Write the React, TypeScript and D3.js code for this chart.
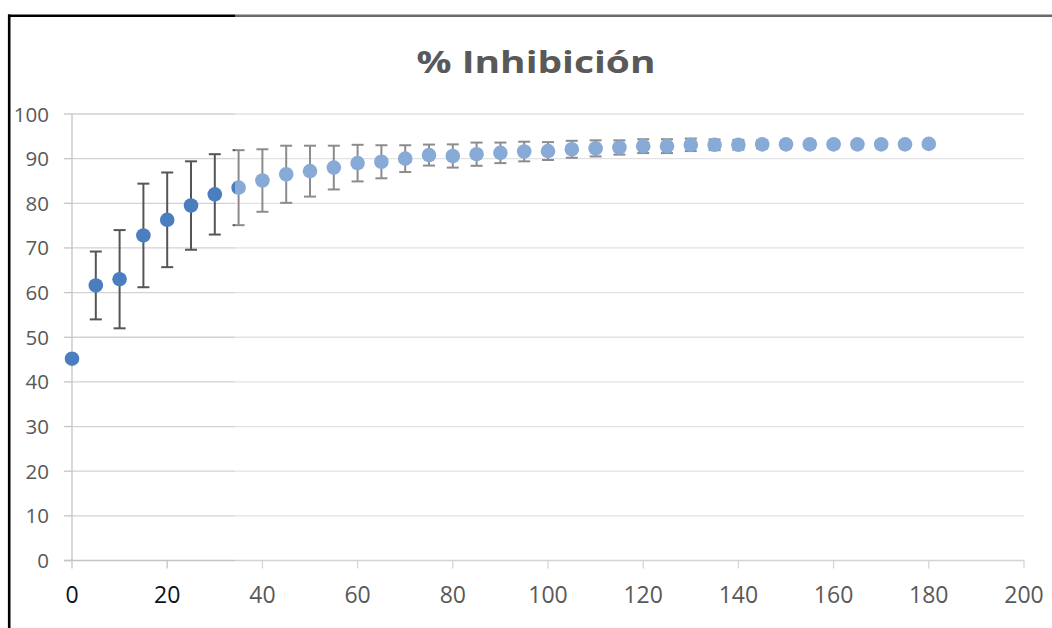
import React, { useRef, useLayoutEffect, useState } from "react";
import * as d3 from "d3";

// minutes
const times = [0, 5, 10, 15, 20, 25, 30, 35, 40, 45, 50, 55, 60, 65, 70, 75, 80, 85, 90, 95, 100, 105, 110, 115, 120, 125, 130, 135, 140, 145, 150, 155, 160, 165, 170, 175, 180];
// % inhibition (mean)
const inhibition = [45.2, 61.6, 63.0, 72.8, 76.3, 79.5, 82.0, 83.5, 85.1, 86.5, 87.2, 88.0, 89.0, 89.3, 90.0, 90.8, 90.6, 91.0, 91.3, 91.6, 91.7, 92.1, 92.3, 92.5, 92.8, 92.8, 93.1, 93.1, 93.1, 93.2, 93.2, 93.2, 93.2, 93.2, 93.2, 93.2, 93.3];
// standard deviation (error bars)
const sd = [0, 7.6, 11.0, 11.6, 10.6, 9.9, 9.0, 8.4, 7.0, 6.4, 5.7, 4.9, 4.1, 3.7, 3.0, 2.35, 2.6, 2.6, 2.3, 2.2, 2.0, 1.9, 1.8, 1.6, 1.55, 1.55, 1.4, 1.2, 1.1, 0.9, 0.8, 0.8, 0.7, 0.7, 0.7, 0.7, 0.6];

const yTicks = [0, 10, 20, 30, 40, 50, 60, 70, 80, 90, 100];
const xTicks = [0, 20, 40, 60, 80, 100, 120, 140, 160, 180, 200];
const title = "% Inhibición";

const W = 1052;
const H = 628;
const SPLIT = 235; // left strip of the picture is rendered darker
const TITLE_W = 239;

const x = d3.scaleLinear().domain([0, 200]).range([72, 1024]);
const y = d3.scaleLinear().domain([0, 100]).range([560.5, 114]);

const FONT = "'Open Sans', 'Liberation Sans', sans-serif";

interface Theme {
    dot: string;
    err: string;
    grid: string;
    axis: string;
    yLabel: string;
    xLabel: string;
}

const light: Theme = {
    dot: "#88aad6",
    err: "#8c8c8c",
    grid: "#e2e2e2",
    axis: "#d4d4d4",
    yLabel: "#595959",
    xLabel: "#595959",
};

const dark: Theme = {
    dot: "#4a7ebf",
    err: "#555555",
    grid: "#d2d2d2",
    axis: "#c4c4c4",
    yLabel: "#595959",
    xLabel: "#111111",
};

function Layer({ t }: { t: Theme }) {
    const cap = 6;
    return (
        <g>
            {/* gridlines */}
            {yTicks.filter(v => v > 0).map(v => (
                <line key={"g" + v} x1={x(0)} x2={x(200)} y1={y(v)} y2={y(v)} stroke={t.grid} strokeWidth={1.3} />
            ))}
            {/* y ticks + labels */}
            {yTicks.map(v => (
                <g key={"y" + v}>
                    <line x1={x(0) - 8} x2={x(0)} y1={y(v)} y2={y(v)} stroke={t.axis} strokeWidth={1.3} />
                    <text x={49} y={y(v) + 7.5} textAnchor="end" fontFamily={FONT} fontSize={20.5} fill={t.yLabel}>{v}</text>
                </g>
            ))}
            {/* axes */}
            <line x1={x(0)} x2={x(0)} y1={y(100)} y2={y(0)} stroke={t.axis} strokeWidth={1.3} />
            <line x1={x(0) - 8} x2={x(200)} y1={y(0)} y2={y(0)} stroke={t.axis} strokeWidth={1.3} />
            {xTicks.map(v => (
                <g key={"x" + v}>
                    <line x1={x(v)} x2={x(v)} y1={y(0)} y2={y(0) + 8} stroke={t.axis} strokeWidth={1.3} />
                    <text x={x(v)} y={603} textAnchor="middle" fontFamily={FONT} fontSize={23} fill={t.xLabel}>{v}</text>
                </g>
            ))}
            {/* error bars */}
            {times.map((tm, i) => {
                const cx = x(tm);
                const hi = y(inhibition[i] + sd[i]);
                const lo = y(inhibition[i] - sd[i]);
                return (
                    <g key={"e" + tm} stroke={t.err} strokeWidth={2}>
                        <line x1={cx} x2={cx} y1={hi} y2={lo} />
                        <line x1={cx - cap} x2={cx + cap} y1={hi} y2={hi} />
                        <line x1={cx - cap} x2={cx + cap} y1={lo} y2={lo} />
                    </g>
                );
            })}
            {/* points */}
            {times.map((tm, i) => (
                <circle key={"p" + tm} cx={x(tm)} cy={y(inhibition[i])} r={7.3} fill={t.dot} />
            ))}
        </g>
    );
}

export default function App() {
    const titleRef = useRef<SVGTextElement>(null);
    const [sx, setSx] = useState(1);

    useLayoutEffect(() => {
        if (!titleRef.current) return;
        const w = titleRef.current.getComputedTextLength();
        if (w > 0) setSx(TITLE_W / w);
    }, []);

    return (
        <svg width={W} height={H} style={{ position: "absolute", left: 0, top: 0, background: "#fff" }}>
            <defs>
                <clipPath id="leftStrip">
                    <rect x={0} y={0} width={SPLIT} height={H} />
                </clipPath>
            </defs>
            <rect width={W} height={H} fill="#fff" />
            <Layer t={light} />
            <g clipPath="url(#leftStrip)">
                <rect width={SPLIT} height={H} fill="#fff" />
                <Layer t={dark} />
            </g>
            <g transform={`translate(536,73) scale(${sx},1)`}>
                <text ref={titleRef} x={0} y={0} textAnchor="middle" fontFamily={FONT} fontWeight="bold" fontSize={30}
                    fill="#595959">{title}</text>
            </g>
            {/* frame */}
            <line x1={SPLIT} x2={W} y1={15.8} y2={15.8} stroke="#6a6a6a" strokeWidth={2.4} />
            <line x1={8} x2={SPLIT} y1={15.8} y2={15.8} stroke="#000" strokeWidth={2.6} />
            <line x1={9.2} x2={9.2} y1={14.5} y2={H} stroke="#000" strokeWidth={2.6} />
        </svg>
    );
}
